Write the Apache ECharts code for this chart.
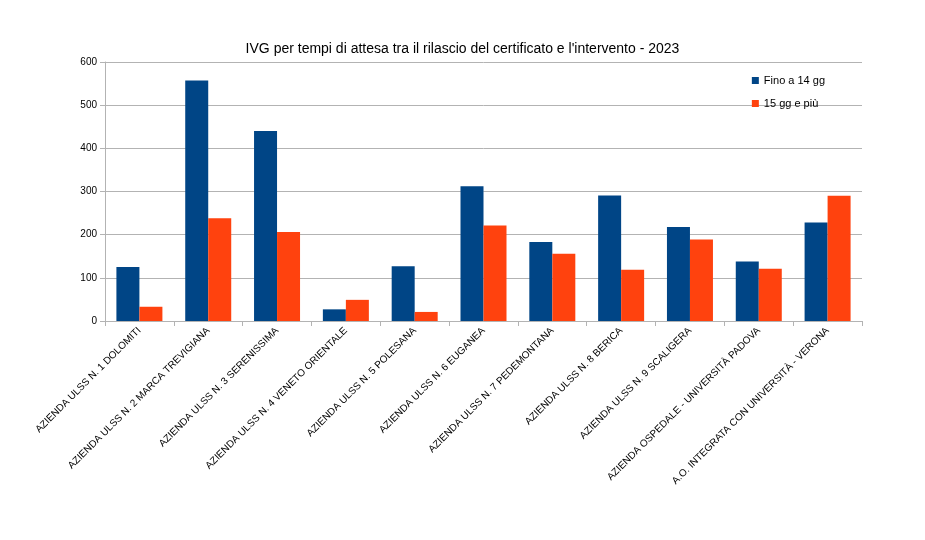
<!DOCTYPE html>
<html>
<head>
<meta charset="utf-8">
<script src="https://cdn.jsdelivr.net/npm/echarts@6/dist/echarts.min.js"></script>
<style>html,body{margin:0;padding:0;background:#fff}#chart{width:925px;height:540px}</style>
</head>
<body>
<div id="chart"></div>
<script>
// categorie e valori
var categories = [
  'AZIENDA ULSS N. 1 DOLOMITI',
  'AZIENDA ULSS N. 2 MARCA TREVIGIANA',
  'AZIENDA ULSS N. 3 SERENISSIMA',
  'AZIENDA ULSS N. 4 VENETO ORIENTALE',
  'AZIENDA ULSS N. 5 POLESANA',
  'AZIENDA ULSS N. 6 EUGANEA',
  'AZIENDA ULSS N. 7 PEDEMONTANA',
  'AZIENDA ULSS N. 8 BERICA',
  'AZIENDA ULSS N. 9 SCALIGERA',
  'AZIENDA OSPEDALE - UNIVERSITÀ PADOVA',
  'A.O. INTEGRATA CON UNIVERSITÀ - VERONA'
];
var fino14 = [125, 557, 440, 27, 127, 312, 183, 291, 218, 138, 228];
var oltre15 = [33, 238, 206, 49, 21, 221, 156, 119, 189, 121, 290];

var myChart = echarts.init(document.getElementById('chart'));
var font = 'Liberation Sans';
myChart.setOption({
  textStyle: { fontFamily: font },
  title: {
    text: "IVG per tempi di attesa tra il rilascio del certificato e l'intervento - 2023",
    left: 'center', top: 37,
    textStyle: { fontFamily: font, fontSize: 14, fontWeight: 'normal', color: '#000' }
  },
  legend: {
    orient: 'vertical', right: 95, top: 70, itemWidth: 7, itemHeight: 7, itemGap: 12,
    icon: 'rect',
    textStyle: { fontFamily: font, fontSize: 11, color: '#000' },
    data: ['Fino a 14 gg', '15 gg e più']
  },
  grid: { left: 105, right: 63, top: 62, bottom: 219, containLabel: false },
  xAxis: {
    type: 'category', data: categories,
    axisLine: { lineStyle: { color: '#b3b3b3' } },
    axisTick: { show: true, interval: 0, lineStyle: { color: '#b3b3b3' } },
    axisLabel: { interval: 0, rotate: 45, fontSize: 10, color: '#000', margin: 8 }
  },
  yAxis: {
    type: 'value', min: 0, max: 600, interval: 100,
    axisLine: { show: true, lineStyle: { color: '#b3b3b3' } },
    axisTick: { show: true, lineStyle: { color: '#b3b3b3' } },
    splitLine: { lineStyle: { color: '#b3b3b3' } },
    axisLabel: { fontSize: 10, color: '#000' }
  },
  series: [
    { name: 'Fino a 14 gg', type: 'bar', data: fino14, barWidth: 23, barGap: '0%',
      itemStyle: { color: '#004586' } },
    { name: '15 gg e più', type: 'bar', data: oltre15, barWidth: 23,
      itemStyle: { color: '#ff420e' } }
  ]
});
</script>
</body>
</html>
